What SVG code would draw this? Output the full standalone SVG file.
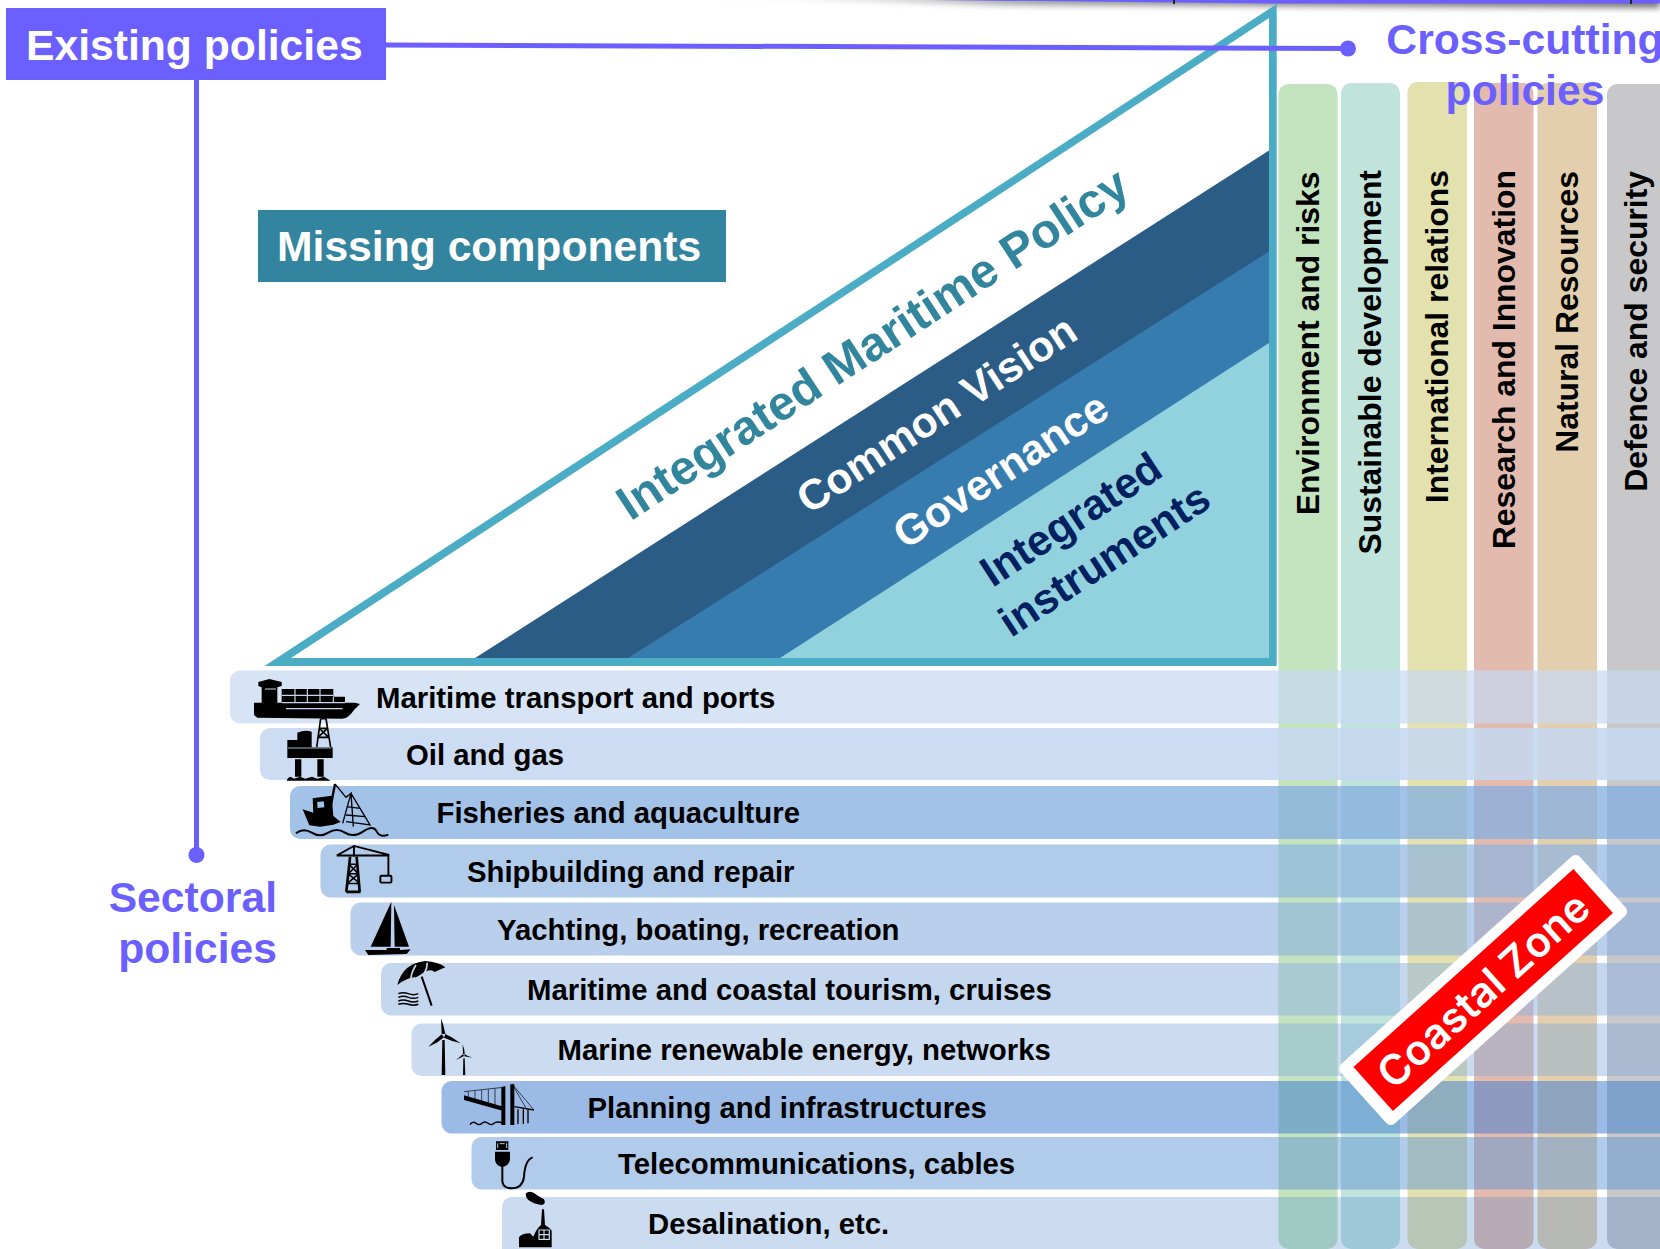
<svg xmlns="http://www.w3.org/2000/svg" width="1660" height="1249" viewBox="0 0 1660 1249">
<defs>
<filter id="soft" x="-5%" y="-200%" width="110%" height="500%"><feGaussianBlur stdDeviation="3"/></filter>
<linearGradient id="edge" x1="0" x2="1" y1="0" y2="0"><stop offset="0" stop-color="#bbb" stop-opacity="0"/><stop offset=".35" stop-color="#999"/><stop offset="1" stop-color="#777"/></linearGradient>
</defs>
<style>
text{font-family:"Liberation Sans",Arial,sans-serif;font-weight:700}
.head{font-size:42.67px}
.pur{fill:#6C5FFF}
.wht{fill:#fff}
.row{font-size:29.33px;fill:#000}
.col{font-size:31.9px;fill:#000;text-anchor:end}
.ic{fill:#000;stroke:none}
.il{fill:none;stroke:#000}
.tri{font-size:42.67px}
</style>
<rect width="1660" height="1249" fill="#fff"/>

<g id="top-edge">
<polygon points="700,-4 1660,-4 1660,8 1000,5" fill="url(#edge)" filter="url(#soft)"/>
<polygon points="930,0 1660,0 1660,3.500 1276,3.500" fill="#6C5FFF"/>
<rect x="1173" y="0" width="2" height="4" fill="#222"/><rect x="1630" y="0" width="2" height="4" fill="#222"/>
</g>

<g id="columns">
<path d="M1278.500 94a10 10 0 0 1 10-10h39a10 10 0 0 1 10 10V1239a10 10 0 0 1-10 10h-39a10 10 0 0 1-10-10z" fill="#C3E3BF"/>
<path d="M1341 93a10 10 0 0 1 10-10h39a10 10 0 0 1 10 10V1239a10 10 0 0 1-10 10h-39a10 10 0 0 1-10-10z" fill="#C0E3DC"/>
<path d="M1407.500 92a10 10 0 0 1 10-10h39.500a10 10 0 0 1 10 10V1239a10 10 0 0 1-10 10h-39.500a10 10 0 0 1-10-10z" fill="#E3E1AE"/>
<path d="M1474 93a10 10 0 0 1 10-10h39.500a10 10 0 0 1 10 10V1239a10 10 0 0 1-10 10h-39.500a10 10 0 0 1-10-10z" fill="#E3BBAE"/>
<path d="M1537.500 93a10 10 0 0 1 10-10h39.500a10 10 0 0 1 10 10V1239a10 10 0 0 1-10 10h-39.500a10 10 0 0 1-10-10z" fill="#E3CFAE"/>
<path d="M1607 94a10 10 0 0 1 10-10h60V1249h-60a10 10 0 0 1-10-10z" fill="#C8C8CA"/>
<text class="col" transform="translate(1319 171.500) rotate(-90)">Environment and risks</text>
<text class="col" transform="translate(1381 170) rotate(-90)">Sustainable development</text>
<text class="col" transform="translate(1448 170) rotate(-90)">International relations</text>
<text class="col" transform="translate(1514.500 170) rotate(-90)">Research and Innovation</text>
<text class="col" transform="translate(1578 171) rotate(-90)">Natural Resources</text>
<text class="col" transform="translate(1646.500 171) rotate(-90)">Defence and security</text>
</g>

<g id="triangle">
<polygon points="291,658 1269,18 1269,658" fill="#fff"/>
<polygon points="475,658 1269,150.500 1269,658" fill="#2A5C85"/>
<polygon points="628,658 1269,251.500 1269,658" fill="#377CAF"/>
<polygon points="780,658 1269,343 1269,658" fill="#92D2DF"/>
<path fill-rule="evenodd" d="M264.500 666L1276.700 4V666ZM291 658H1269V18Z" fill="#4BACC6"/>
<text class="tri" style="font-size:48.200px;fill:#31859C" transform="translate(630.500 521.500) rotate(-33.200)">Integrated Maritime Policy</text>
<text class="tri wht" transform="translate(809 515) rotate(-33.200)">Common Vision</text>
<text class="tri wht" transform="translate(905.500 550) rotate(-33.200)">Governance</text>
<text class="tri" style="fill:#012060" transform="translate(992.500 588) rotate(-33.200)">Integrated</text>
<text class="tri" style="font-size:42.300px;fill:#012060" transform="translate(1011 638) rotate(-33.200)">instruments</text>
</g>

<g id="missing-components">
<rect x="258" y="210" width="468" height="72" fill="#33849F"/>
<text class="head wht" x="277" y="260.500">Missing components</text>
</g>

<g id="connectors">
<path d="M386 45L1348 48.500" stroke="#6C5FFF" stroke-width="5" fill="none"/>
<circle cx="1348" cy="48.500" r="8" fill="#6C5FFF"/>
<path d="M196.500 80V855" stroke="#6C5FFF" stroke-width="5" fill="none"/>
<circle cx="196.500" cy="855" r="8" fill="#6C5FFF"/>
</g>

<g id="existing-policies">
<rect x="6" y="8" width="380" height="72" fill="#6C5FFF"/>
<text class="head wht" x="26" y="60">Existing policies</text>
</g>

<g id="cross-cutting-label">
<text class="head pur" x="1525" y="54" text-anchor="middle">Cross-cutting</text>
<text class="head pur" x="1525" y="105" text-anchor="middle">policies</text>
</g>
<g id="sectoral-label">
<text class="head pur" x="277" y="912" text-anchor="end">Sectoral</text>
<text class="head pur" x="277" y="963" text-anchor="end">policies</text>
</g>

<g id="sector-1"><rect fill="#C6D8F1" fill-opacity=".7" x="230" y="670.500" width="1470" height="53" rx="10"/><text class="row" x="376" y="707.500">Maritime transport and ports</text></g>
<g id="sector-2"><rect fill="#C5D7F0" fill-opacity=".88" x="260" y="728" width="1440" height="52" rx="10"/><text class="row" x="406" y="765">Oil and gas</text></g>
<g id="sector-3"><rect fill="#84ADE0" fill-opacity=".75" x="290" y="786" width="1410" height="53" rx="10"/><text class="row" x="436.500" y="823">Fisheries and aquaculture</text></g>
<g id="sector-4"><rect fill="#8CB2E2" fill-opacity=".68" x="320.500" y="844.500" width="1380" height="53" rx="10"/><text class="row" x="467" y="881.500">Shipbuilding and repair</text></g>
<g id="sector-5"><rect fill="#8AAFDF" fill-opacity=".6" x="350.500" y="902.500" width="1350" height="53" rx="10"/><text class="row" x="497" y="940">Yachting, boating, recreation</text></g>
<g id="sector-6"><rect fill="#90B3E1" fill-opacity=".52" x="381" y="963" width="1320" height="52.500" rx="10"/><text class="row" x="527" y="1000">Maritime and coastal tourism, cruises</text></g>
<g id="sector-7"><rect fill="#7DA7DC" fill-opacity=".4" x="411.500" y="1023.500" width="1290" height="52.500" rx="10"/><text class="row" x="557.500" y="1060">Marine renewable energy, networks</text></g>
<g id="sector-8"><rect fill="#3F7DCF" fill-opacity=".52" x="441.500" y="1081" width="1260" height="52.500" rx="10"/><text class="row" x="587.500" y="1117.500">Planning and infrastructures</text></g>
<g id="sector-9"><rect fill="#5B92D4" fill-opacity=".48" x="471.500" y="1137" width="1230" height="52.500" rx="10"/><text class="row" x="618" y="1174">Telecommunications, cables</text></g>
<g id="sector-10"><rect fill="#4480CE" fill-opacity=".28" x="502" y="1197" width="1200" height="62" rx="10"/><text class="row" x="648" y="1233.500">Desalination, etc.</text></g>

<g id="icons-upper" transform="translate(220 660) scale(.33333)">
<g id="icon-ship">
<path class="ic" d="M102 128H125V82L115 78V66L148 57L185 66V78L172 82V128H185V87H340V110H375V128H405L420 132L402 150Q385 176 365 176L112 173L102 165Z"/>
<path d="M198 146H368M135 87H168M185 106H340M225 87V128M262 87V128M300 87V128M340 110V128M185 128H375" stroke="#C5D5EA" stroke-width="3.500" fill="none"/>
</g>
<g id="icon-rig">
<path class="ic" d="M202 268V240H232V218Q255 208 275 215V262H338V294H202Z"/>
<path class="ic" d="M225 298H244V350H225ZM292 298H311V350H292ZM200 362L204 354L212 350L222 356L240 350L256 356L276 350L292 356L312 350L332 362Z"/>
<path class="il" stroke-width="5" d="M302 176L290 262M318 176L332 262M302 176H318M298 205H322M294 232H326M298 205L326 232M322 205L294 232"/>
<path d="M204 264H334" stroke="#C9D9EF" stroke-width="2.500"/>
</g>
<g id="icon-fishing">
<path class="ic" d="M248 448L280 458L278 415L335 407L340 468L362 486L340 494L300 500L268 496Z"/>
<rect x="292" y="425" width="20" height="18" fill="#A3C2E8" transform="rotate(-5 300 432)"/>
<path class="il" stroke-width="7" d="M330 450L345 372"/>
<path class="il" stroke-width="4" d="M345 372L378 412L393 400L368 490M393 400L450 495L378 485M393 400L400 500M380 440L420 445M378 465L435 470"/>
<path class="il" stroke-width="6" d="M228 520Q250 502 275 518T325 518T375 518T430 514T470 514T505 524"/>
</g>
</g>

<g id="icons-crane" transform="translate(0 650) scale(.38265)">
<path class="il" stroke-width="5" d="M880 537L925 512L1015 535V590M880 537H1015M925 512V540"/>
<path class="il" stroke-width="7" d="M915 540L905 632M932 540L940 632M905 632H942"/>
<path class="il" stroke-width="4" d="M912 560H935M910 585H937M908 610H940M912 560L937 585M935 560L910 585M910 585L940 610M937 585L908 610"/>
<rect class="il" stroke-width="5" x="994" y="590" width="29" height="18" rx="3"/>
</g>

<g id="icons-lower" transform="translate(340 850) scale(.33333)">
<g id="icon-yacht">
<path class="ic" d="M154 155L152 290H92ZM162 165L207 290H164Z"/>
<path class="ic" d="M75 300L140 300V294H180V300L212 298L200 312L85 315Z"/>
</g>
<g id="icon-umbrella">
<path class="ic" d="M172 405Q188 340 255 333Q295 335 316 352L284 366Q270 352 240 375L228 382Q205 380 172 405Z"/>
<path d="M228 345Q212 370 213 388M262 338Q262 355 252 372" stroke="#C5D7EF" stroke-width="5" fill="none"/>
<path class="il" stroke-width="6" d="M245 380L275 467"/>
<path class="il" stroke-width="4.500" d="M175 431Q190 425 205 431T235 431M175 442Q190 436 205 442T235 442M175 453Q190 447 205 453T235 453M175 463Q190 458 205 463T235 463"/>
</g>
<g id="icon-turbines">
<path class="ic" d="M307 570H314L316 675H305ZM303 505L310 525L316 552L305 552ZM265 590L285 570L305 553L312 562L290 578ZM362 580L335 562L316 552L312 563L335 572Z"/>
<path class="ic" d="M370 625H374L376 675H369ZM368 583L373 600L374 612L369 612ZM348 630L360 620L369 612L372 618L360 624ZM398 623L382 617L374 612L373 619L385 621Z"/>
</g>
<g id="icon-bridge">
<path class="ic" d="M372 736L490 770V783L372 750ZM484 712L496 708V825H484ZM511 703H523V825H511Z"/>
<path class="il" stroke-width="4" d="M534 778V822M550 778V822M564 778V820M523 770L582 780"/>
<path class="il" stroke-width="2" d="M517 703L582 780M517 703L560 778M372 725L490 712M385 724V745M405 722V750M425 720V755M445 718V762M465 715V768"/>
<path class="il" stroke-width="4" d="M390 824Q398 812 408 820T426 820T444 820T462 820T490 820"/>
</g>
<g id="icon-plug">
<path class="ic" d="M468 874H505V900H468ZM465 905H510V930Q505 948 487 951Q468 948 465 930Z"/>
<path d="M473 880V894M500 880V894M479 881H494" stroke="#B0CAEA" stroke-width="3" fill="none"/>
<path class="il" stroke-width="6" d="M487 950V995Q490 1015 515 1015Q548 1015 552 980Q555 930 578 922"/>
</g>
<g id="icon-factory">
<path class="ic" d="M558 1030Q570 1018 590 1035L612 1048Q620 1062 605 1065Q580 1062 565 1050Q555 1040 558 1030Z"/>
<path class="ic" d="M537 1192V1162Q545 1150 570 1150L580 1160Q590 1135 603 1125L606 1078H612L615 1125Q628 1132 635 1142V1192Z"/>
<path d="M597 1140H628V1168H597ZM612 1140V1168M597 1154H628" fill="none" stroke="#CBDCF1" stroke-width="3.500"/>
</g>
</g>

<g id="coastal-zone" transform="translate(1483.200 990) rotate(-42)">
<rect x="-161" y="-40" width="322" height="80" rx="6" fill="#fff"/>
<rect x="-148" y="-29.500" width="296" height="59" fill="#FF0000"/>
<text x="0" y="15" text-anchor="middle" style="font-family:Inter,'Open Sans',sans-serif;font-weight:600;font-size:42px;fill:#fff">Coastal Zone</text>
</g>
</svg>
